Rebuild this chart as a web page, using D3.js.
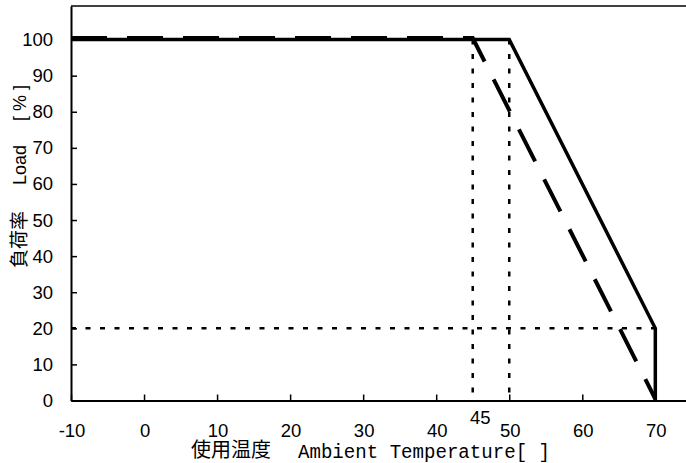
<!DOCTYPE html>
<html>
<head>
<meta charset="utf-8">
<script src="https://cdn.jsdelivr.net/npm/d3@7"></script>
<style>
  body { margin: 0; background: #fff; }
  svg { display: block; }
  .lbl { font-family: "Liberation Sans", Arial, sans-serif; font-size: 18.5px; fill: #000; }
</style>
</head>
<body>
<div id="chart"></div>
<script>
// derating curve data
const xTicks = [-10, 0, 10, 20, 30, 40, 50, 60, 70];
const yTicks = [0, 10, 20, 30, 40, 50, 60, 70, 80, 90, 100];
const solidTemp = [-10, 50, 70, 70];
const solidLoad = [100, 100, 20, 0];
const dashedTemp = [-10, 45, 70];
const dashedLoad = [100, 100, 0];
const guideTemps = [45, 50];
const guideLoad = 20;
const extraTickLabel = 45;

const width = 686, height = 463;
const svg = d3.select("#chart").append("svg").attr("width", width).attr("height", height);

const x = d3.scaleLinear().domain([-10, 74.2]).range([71, 686]);
const y = d3.scaleLinear().domain([0, 109.3]).range([400.5, 6]);

// top border
svg.append("line")
  .attr("x1", x(-10)).attr("x2", x.range()[1])
  .attr("y1", y.range()[1]).attr("y2", y.range()[1])
  .attr("stroke", "#000").attr("stroke-width", 1.5);

// axes with inward ticks, labels drawn separately
const xAxis = svg.append("g").attr("transform", `translate(0,${y(0)})`)
  .call(d3.axisBottom(x).tickValues(xTicks).tickSize(-6).tickSizeOuter(0).tickFormat(""));
const yAxis = svg.append("g").attr("transform", `translate(${x(-10)},0)`)
  .call(d3.axisLeft(y).tickValues(yTicks).tickSize(-6).tickSizeOuter(0).tickFormat(""));
[xAxis, yAxis].forEach(a => {
  a.select(".domain").attr("stroke-width", 2);
  a.selectAll(".tick line").attr("stroke-width", 1.5);
});

svg.append("g").selectAll("text")
  .data(xTicks).join("text")
  .attr("class", "lbl")
  .attr("x", d => x(d) + 1).attr("y", y(0) + 36.5)
  .attr("text-anchor", "middle")
  .text(d => String(d));

svg.append("g").selectAll("text")
  .data(yTicks).join("text")
  .attr("class", "lbl")
  .attr("x", x(-10) - 18).attr("y", d => y(d) + 6.5)
  .attr("text-anchor", "end")
  .text(d => String(d));

// extra "45" label, raised
svg.append("text")
  .attr("class", "lbl")
  .attr("x", x(extraTickLabel) + 7.5).attr("y", y(0) + 23)
  .attr("text-anchor", "middle")
  .text(extraTickLabel);

// dotted guides
const dotted = { stroke: "#000", "stroke-width": 2.5, "stroke-dasharray": "5,9.5" };
guideTemps.forEach(t => {
  const l = svg.append("line")
    .attr("x1", x(t)).attr("x2", x(t)).attr("y1", y(100)).attr("y2", y(0));
  Object.entries(dotted).forEach(([k, v]) => l.attr(k, v));
});
const hl = svg.append("line")
  .attr("x1", x(-10)).attr("x2", x(70)).attr("y1", y(guideLoad)).attr("y2", y(guideLoad));
Object.entries(dotted).forEach(([k, v]) => hl.attr(k, v));

const line = d3.line().x(d => x(d[0])).y(d => y(d[1]));

// dashed curve
svg.append("path")
  .datum(d3.zip(dashedTemp, dashedLoad))
  .attr("d", line)
  .attr("transform", "translate(0,-1.5)")
  .attr("fill", "none").attr("stroke", "#000").attr("stroke-width", 4)
  .attr("stroke-dasharray", "36,20");

// solid curve
svg.append("path")
  .datum(d3.zip(solidTemp, solidLoad))
  .attr("d", line)
  .attr("fill", "none").attr("stroke", "#000").attr("stroke-width", 3.5)
  .attr("stroke-linejoin", "miter");

// y title
const yt = svg.append("text")
  .attr("transform", "translate(26,268) rotate(-90)")
  .style("font-size", "18px").style("font-family", "'Liberation Sans', Arial, sans-serif");
yt.append("tspan").style("font-family", "'Noto Sans CJK JP', sans-serif").style("font-size", "19px").text("負荷率");
yt.append("tspan").attr("dx", 26).text("Load");
yt.append("tspan").attr("dx", 24).text("[ % ]");

// x title
svg.append("text")
  .attr("x", 191).attr("y", 457)
  .style("font-family", "'Noto Sans CJK JP', sans-serif").style("font-size", "20px")
  .text("使用温度");
svg.append("text")
  .attr("x", 298).attr("y", 458)
  .attr("textLength", 252).attr("lengthAdjust", "spacingAndGlyphs")
  .style("font-family", "'Liberation Mono', monospace").style("font-size", "20px")
  .text("Ambient Temperature[  ]");
</script>
</body>
</html>
